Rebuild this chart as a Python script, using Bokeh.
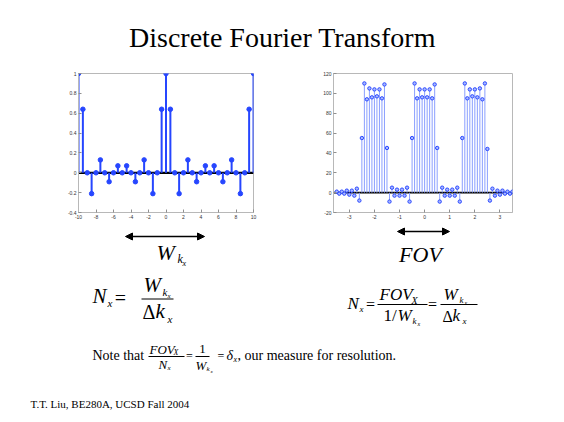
import numpy as np
from bokeh.plotting import figure
from bokeh.layouts import column, row
from bokeh.models import (Range1d, Label, Arrow, NormalHead, Span,
                          FixedTicker, ColumnDataSource)
from bokeh.embed import file_html
from bokeh.resources import INLINE

# ---------------- data ----------------
left_x = np.arange(-10, 10.01, 0.5)
left_y = [1.0, 0.64, 0, -0.21, 0, 0.13, 0, -0.09, 0, 0.07, 0, 0.07, 0, -0.09, 0, 0.13, 0, -0.21, 0, 0.64, 1.0,
          0.64, 0, -0.21, 0, 0.13, 0, -0.09, 0, 0.07, 0, 0.07, 0, -0.09, 0, 0.13, 0, -0.21, 0, 0.64, 1.0]
left_xticks = [-10, -8, -6, -4, -2, 0, 2, 4, 6, 8, 10]
left_xtick_labels = ["-10", "-8", "-6", "-4", "-2", "0", "2", "4", "6", "8", "10"]
left_yticks = [-0.4, -0.2, 0, 0.2, 0.4, 0.6, 0.8, 1.0]
left_ytick_labels = ["-0.4", "-0.2", "0", "0.2", "0.4", "0.6", "0.8", "1"]

right_x = np.round(np.arange(-35, 36) / 10.0, 1)
right_y = [1, -1, 1, -1, 2, -2, 2, -3, 4, -8,
           55, 110, 94, 105, 96, 104, 97, 104, 95, 109, 45,
           -9, 5, -3, 3, -3, 3, -3, 5, -9,
           55, 110, 95, 104, 96, 104, 96, 104, 95, 109, 45,
           -9, 5, -3, 3, -3, 3, -3, 5, -9,
           55, 110, 95, 104, 97, 104, 96, 105, 94, 110, 44,
           -8, 4, -3, 2, -2, 2, -1, 1, -1, 1]
right_xticks = [-3, -2, -1, 0, 1, 2, 3]
right_xtick_labels = ["-3", "-2", "-1", "0", "1", "2", "3"]
right_yticks = [-20, 0, 20, 40, 60, 80, 100, 120]
right_ytick_labels = ["-20", "0", "20", "40", "60", "80", "100", "120"]

SERIF = "Liberation Serif"
W = 564
SHIFT = 0.34  # label baseline correction (fraction of font size)


def style_axes(p, xt, xl, yt, yl):
    p.xaxis.ticker = FixedTicker(ticks=xt)
    p.yaxis.ticker = FixedTicker(ticks=yt)
    p.xaxis.major_label_overrides = {t: s for t, s in zip(xt, xl)}
    p.yaxis.major_label_overrides = {t: s for t, s in zip(yt, yl)}
    for ax in (p.xaxis[0], p.yaxis[0]):
        ax.major_tick_in = 3
        ax.major_tick_out = 0
        ax.minor_tick_line_color = None
        ax.axis_line_color = "#b8b8b8"
        ax.major_tick_line_color = "#909090"
        ax.major_label_text_font_size = "5px"
        ax.major_label_text_color = "#333333"
        ax.major_label_standoff = 2
        ax.major_label_text_font = "Liberation Sans"
    p.xgrid.visible = False
    p.ygrid.visible = False
    p.outline_line_color = "#b8b8b8"


def base_fig(width, height, xr, yr, **kw):
    return figure(width=width, height=height, x_range=xr, y_range=yr,
                  output_backend="svg", toolbar_location=None, **kw)


def make_label(x, y, text, size, style="normal", align="left"):
    return Label(x=x, y=y - SHIFT * size, text=text, text_font=SERIF,
                 text_font_size=f"{size}px", text_font_style=style, text_align=align,
                 text_baseline="alphabetic", text_color="black")


# ---------------- top (title) ----------------
top = base_fig(W, 70, Range1d(0, W), Range1d(70, 0), x_axis_type=None, y_axis_type=None,
               min_border=0)
top.outline_line_color = None
top.add_layout(make_label(282, 47, "Discrete Fourier Transform", 28, "normal", "center"))

# ---------------- left stem plot ----------------
lsrc = ColumnDataSource(dict(x=left_x, y=left_y))
pl = base_fig(272, 152, Range1d(-10, 10), Range1d(-0.4, 1.0),
              min_border_left=78, min_border_right=19, min_border_top=3, min_border_bottom=10)
style_axes(pl, left_xticks, left_xtick_labels, left_yticks, left_ytick_labels)
pl.add_layout(Span(location=0, dimension="width", line_color="black", line_width=2.2,
                   level="underlay"))
pl.segment(x0="x", y0=0, x1="x", y1="y", source=lsrc, line_color="#2646ff", line_width=2)
pl.scatter("x", "y", source=lsrc, marker="circle", size=4.5, line_color="#2646ff",
           fill_color="#2646ff")

# ---------------- right stem plot ----------------
rsrc = ColumnDataSource(dict(x=right_x, y=right_y))
pr = base_fig(292, 152, Range1d(-3.63, 3.5), Range1d(-20, 120),
              min_border_left=61, min_border_right=52, min_border_top=3, min_border_bottom=10)
style_axes(pr, right_xticks, right_xtick_labels, right_yticks, right_ytick_labels)
pr.add_layout(Span(location=0, dimension="width", line_color="black", line_width=1.6,
                   level="underlay"))
pr.segment(x0="x", y0=0, x1="x", y1="y", source=rsrc, line_color="#8a9fff", line_width=1)
pr.scatter("x", "y", source=rsrc, marker="circle", size=3.4, line_color="#2a48ff",
           fill_color="#a9b8ff", line_width=1)

# ---------------- bottom (formulas) ----------------
bot = base_fig(W, 200, Range1d(0, W), Range1d(422, 222), x_axis_type=None, y_axis_type=None,
               min_border=0)
bot.outline_line_color = None


def lab(x, y, text, size, style="normal", align="left"):
    bot.add_layout(make_label(x, y, text, size, style, align))


def bar(x0, x1, y, lw=1):
    bot.add_layout(Arrow(x_start=x0, y_start=y, x_end=x1, y_end=y, start=None, end=None,
                         line_color="black", line_width=lw))


def harrow(x0, x1, y):
    bot.add_layout(Arrow(x_start=x0, y_start=y, x_end=x1, y_end=y,
                         start=NormalHead(size=7, fill_color="black", line_color="black"),
                         end=NormalHead(size=7, fill_color="black", line_color="black"),
                         line_color="black", line_width=1.5))


# arrows and labels under plots
harrow(125, 204, 236)
lab(156, 259, "W", 22, "italic")
lab(177, 263, "k", 12, "italic")
lab(182, 266, "x", 8, "italic")

harrow(397, 449, 231)
lab(420, 261, "FOV", 22, "italic", "center")

# left formula: N_x = W_kx / Δk_x
lab(92, 303, "N", 21, "italic")
lab(107, 306, "x", 11, "italic")
lab(120, 304, "=", 20, "normal", "center")
bar(141, 173, 298.5)
lab(143, 292, "W", 21, "italic")
lab(162, 295, "k", 11, "italic")
lab(167, 298, "x", 7, "italic")
lab(142, 318, "Δ", 20)
lab(155, 318, "k", 21, "italic")
lab(167, 322, "x", 11, "italic")

# right formula: N_x = FOV_X / (1/W_kx) = W_kx / Δk_x
lab(347, 309, "N", 17, "italic")
lab(359, 312, "x", 9, "italic")
lab(370, 309, "=", 16, "normal", "center")
bar(377, 427, 304)
lab(379, 300, "FOV", 17, "italic")
lab(411, 303, "X", 10, "italic")
lab(383, 321, "1/", 17)
lab(397, 321, "W", 17, "italic")
lab(412, 324, "k", 9, "italic")
lab(417, 326, "x", 6, "italic")
lab(432, 309, "=", 16, "normal", "center")
bar(440, 477, 304)
lab(443, 300, "W", 17, "italic")
lab(459, 303, "k", 9, "italic")
lab(464, 305, "x", 6, "italic")
lab(442, 321, "Δ", 16)
lab(452, 321, "k", 17, "italic")
lab(462, 324, "x", 9, "italic")

# note line
lab(92, 360, "Note that", 14)
lab(149, 353, "FOV", 13, "italic")
lab(173, 355, "X", 8, "italic")
bar(148, 184, 356)
lab(158, 368, "N", 13, "italic")
lab(167, 370, "x", 7, "italic")
lab(189, 360, "=", 12, "normal", "center")
lab(202, 353, "1", 13, "normal", "center")
bar(195, 209, 356)
lab(195, 369, "W", 13, "italic")
lab(206, 371, "k", 7, "italic")
lab(210, 373, "x", 5, "italic")
lab(217, 360, "=", 12)
lab(226, 360, "δ", 14, "italic")
lab(233, 362, "x", 8, "italic")
lab(237, 360, ", our measure for resolution.", 14)

# footer
lab(30, 407, "T.T. Liu, BE280A, UCSD Fall 2004", 11)

layout = column(top, row(pl, pr), bot)
open("out.html", "w").write(file_html(layout, INLINE))
